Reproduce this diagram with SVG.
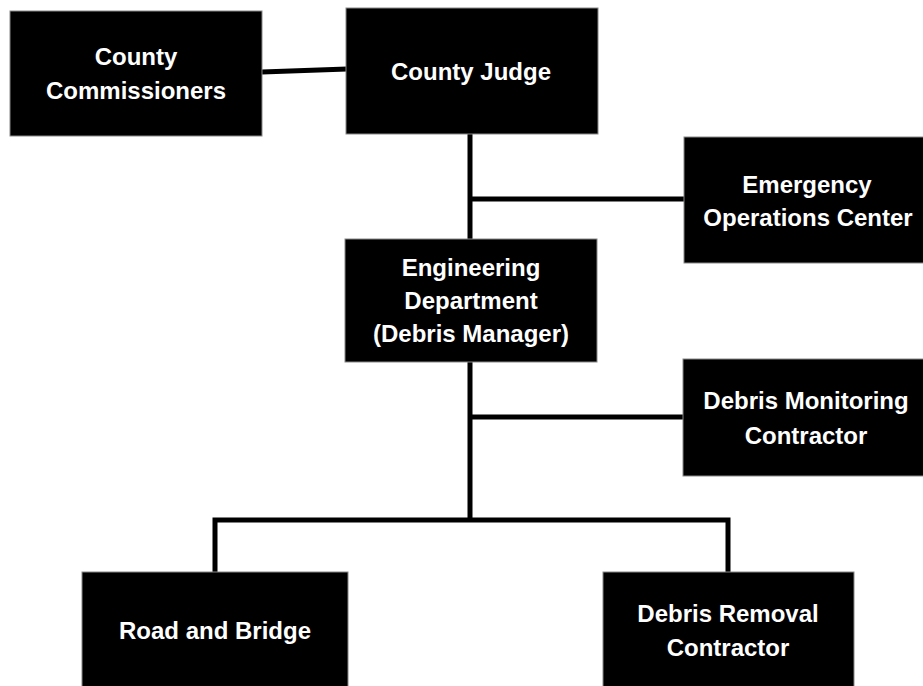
<svg xmlns="http://www.w3.org/2000/svg" width="923" height="686" viewBox="0 0 923 686">
  <style>
    .box { fill: #000; stroke: #888; stroke-width: 1; }
    .lbl { fill: #fff; font-family: "Liberation Sans", Arial, sans-serif; font-weight: bold; font-size: 24px; text-anchor: middle; }
    .wire { stroke: #000; stroke-width: 5; fill: none; }
  </style>
  <rect width="923" height="686" fill="#fff"/>

  <g id="connectors">
    <line class="wire" x1="262" y1="72" x2="347" y2="69"/>
    <line class="wire" x1="470" y1="133" x2="470" y2="240"/>
    <line class="wire" x1="470" y1="199" x2="684" y2="199"/>
    <line class="wire" x1="470" y1="362" x2="470" y2="520"/>
    <line class="wire" x1="470" y1="417" x2="684" y2="417"/>
    <polyline class="wire" points="215,573 215,520 728,520 728,573"/>
  </g>

  <g id="county-commissioners">
    <rect class="box" x="10" y="11" width="252" height="125"/>
    <text class="lbl" x="136" y="65">County</text>
    <text class="lbl" x="136" y="99">Commissioners</text>
  </g>

  <g id="county-judge">
    <rect class="box" x="346" y="8" width="252" height="126"/>
    <text class="lbl" x="471" y="80">County Judge</text>
  </g>

  <g id="emergency-operations-center">
    <rect class="box" x="684" y="137" width="245" height="126"/>
    <text class="lbl" x="807" y="193">Emergency</text>
    <text class="lbl" x="808" y="226">Operations Center</text>
  </g>

  <g id="engineering-department">
    <rect class="box" x="345" y="239" width="252" height="123"/>
    <text class="lbl" x="471" y="276">Engineering</text>
    <text class="lbl" x="471" y="309">Department</text>
    <text class="lbl" x="471" y="342">(Debris Manager)</text>
  </g>

  <g id="debris-monitoring-contractor">
    <rect class="box" x="683" y="359" width="245" height="117"/>
    <text class="lbl" x="806" y="409">Debris Monitoring</text>
    <text class="lbl" x="806" y="444">Contractor</text>
  </g>

  <g id="road-and-bridge">
    <rect class="box" x="82" y="572" width="266" height="120"/>
    <text class="lbl" x="215" y="639">Road and Bridge</text>
  </g>

  <g id="debris-removal-contractor">
    <rect class="box" x="603" y="572" width="251" height="120"/>
    <text class="lbl" x="728" y="622">Debris Removal</text>
    <text class="lbl" x="728" y="656">Contractor</text>
  </g>
</svg>
